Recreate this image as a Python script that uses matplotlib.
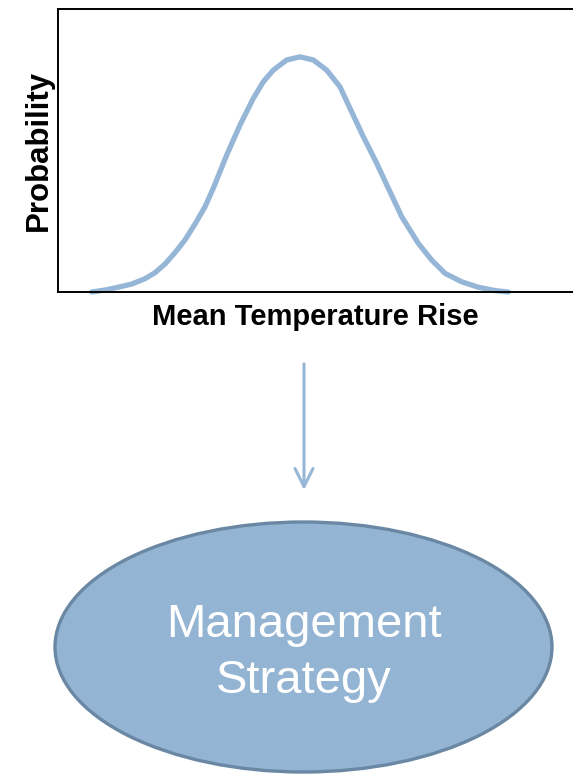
import matplotlib
matplotlib.use('Agg')
import matplotlib.pyplot as plt
from matplotlib.patches import Ellipse

# Points (temperature rise, probability)
temp_rise = [0.654, 0.913, 1.171, 1.431, 1.689, 1.883, 2.078, 2.272, 2.466,
             2.660, 2.854, 3.016, 3.276, 3.534, 3.792, 3.987, 4.181, 4.441,
             4.699, 4.957, 5.217, 5.476, 5.670, 5.928, 6.188, 6.447, 6.674,
             6.996, 7.256, 7.515, 7.839, 8.161, 8.485, 8.744]
probability = [0.0, 0.007, 0.017, 0.028, 0.047, 0.068, 0.099, 0.139, 0.184,
               0.240, 0.301, 0.367, 0.484, 0.590, 0.684, 0.743, 0.784, 0.820,
               0.831, 0.820, 0.784, 0.725, 0.649, 0.549, 0.455, 0.354, 0.266,
               0.172, 0.113, 0.066, 0.036, 0.017, 0.005, 0.0]

x_label = 'Mean Temperature Rise'
y_label = 'Probability'
box_text = 'Management\nStrategy'

blue = '#95B6D6'
plt.rcParams['font.family'] = ['Liberation Sans', 'DejaVu Sans']

fig = plt.figure(figsize=(5.73, 7.77), dpi=100)

# Top: probability curve
ax = fig.add_axes([58/573, 1 - 292/777, 515/573, 283/777])
ax.plot(temp_rise, probability, color=blue, lw=3.8, solid_capstyle='round',
        solid_joinstyle='round', clip_on=False)
ax.set_xlim(0, 10)
ax.set_ylim(0, 1)
ax.set_xticks([])
ax.set_yticks([])
ax.spines['right'].set_visible(False)
for s in ['left', 'top', 'bottom']:
    ax.spines[s].set_linewidth(1.4)
ax.set_xlabel(x_label, fontsize=21, fontweight='bold', labelpad=8)
ax.set_ylabel(y_label, fontsize=22.5, fontweight='bold', labelpad=3)

# Bottom: arrow and ellipse, drawn in pixel-like coordinates
ov = fig.add_axes([0, 0, 1, 1])
ov.set_xlim(0, 573)
ov.set_ylim(777, 0)
ov.axis('off')
ov.patch.set_alpha(0)

ov.annotate('', xy=(304, 490), xytext=(304, 364),
            arrowprops=dict(arrowstyle='->,head_length=13,head_width=6.5',
                            mutation_scale=1, color=blue, lw=2.2,
                            shrinkA=0, shrinkB=0))

ell = Ellipse((303.5, 647), 497, 250, facecolor='#94B4D3',
              edgecolor='#6A88A3', lw=2.4)
ov.add_patch(ell)
ov.text(303.5, 653, box_text, ha='center', va='center', color='white',
        fontsize=34, linespacing=1.38)

fig.savefig('out.png', dpi=100)
